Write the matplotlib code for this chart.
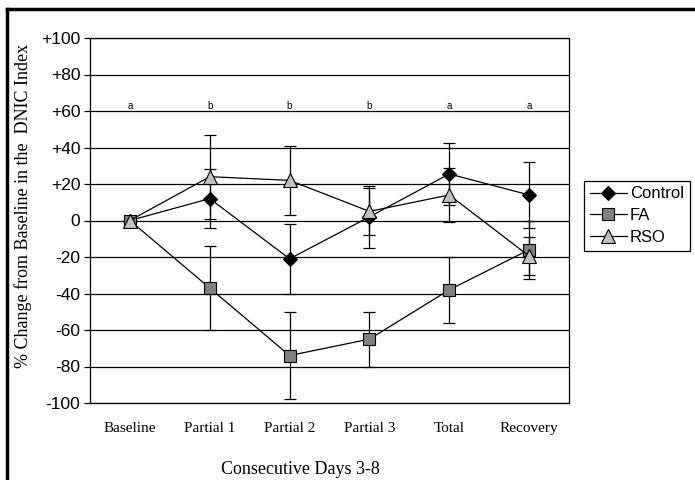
import matplotlib
matplotlib.use("Agg")
import matplotlib.pyplot as plt
from matplotlib.lines import Line2D

# -- Data ----------------------------------------------------------------------
categories = ["Baseline", "Partial 1", "Partial 2", "Partial 3", "Total", "Recovery"]
control     = [0, 12, -21, 2, 25.5, 14]
control_err = [0, 16, 19, 17, 17, 18]
fa          = [0, -37, -74, -65, -38, -16]
fa_err      = [0, 23, 24, 15, 18, 16]
rso         = [0, 24, 22, 5, 14, -19.5]
rso_err     = [0, 23, 19, 13, 15, 10.5]
sig_letters = ["a", "b", "b", "b", "a", "a"]
y_ticks     = [100, 80, 60, 40, 20, 0, -20, -40, -60, -80, -100]
y_labels    = ["+100", "+80", "+60", "+40", "+20", "0", "-20", "-40", "-60", "-80", "-100"]

SANS  = "Liberation Sans"
SERIF = "Liberation Serif"

fig = plt.figure(figsize=(6.95, 4.8), dpi=100)
ax = fig.add_axes([90 / 695, 1 - 403 / 480, 479 / 695, 365 / 480])

x = list(range(len(categories)))

# horizontal gridlines
for v in y_ticks:
    ax.axhline(v, color="black", lw=0.9, zorder=1)

series = [
    ("Control", control, control_err, "D", "black", 7.5),
    ("FA",      fa,      fa_err,      "s", "#808080", 8.5),
    ("RSO",     rso,     rso_err,     "^", "#c0c0c0", 9.5),
]
for name, vals, errs, mk, fc, ms in series:
    ax.errorbar(x, vals, yerr=errs, fmt="none", ecolor="black", elinewidth=0.9,
                capsize=4, capthick=0.9, zorder=2)
for name, vals, errs, mk, fc, ms in series:
    ax.plot(x, vals, color="black", lw=0.9, marker=mk, markersize=ms,
            markerfacecolor=fc, markeredgecolor="black", markeredgewidth=0.8,
            label=name, zorder=3)

for xi, letter in zip(x, sig_letters):
    ax.text(xi, 63, letter, ha="center", va="center", fontsize=7, family=SANS)

ax.set_xlim(-0.5, len(categories) - 0.5)
ax.set_ylim(-100, 100)
ax.set_yticks(y_ticks)
ax.set_yticklabels(y_labels, family=SANS, fontsize=12.5)
ax.set_xticks(x)
ax.set_xticklabels(categories, family=SERIF, fontsize=11)
ax.tick_params(axis="x", length=0, pad=14)
ax.tick_params(axis="y", length=4, width=0.9, direction="out", pad=3, color="black")
for sp in ax.spines.values():
    sp.set_linewidth(0.9)
    sp.set_color("black")

ax.set_ylabel("% Change from Baseline in the  DNIC Index", family=SERIF,
              fontsize=13)
ax.yaxis.set_label_coords(-0.121, 0.54)
fig.text(300 / 695, 1 - 470 / 480, "Consecutive Days 3-8", family=SERIF,
         fontsize=13, ha="center", va="center")

leg = fig.legend(loc="center left", bbox_to_anchor=(584 / 695, 1 - 215.5 / 480),
                 prop={"family": SANS, "size": 12}, fancybox=False,
                 edgecolor="black", framealpha=1, borderpad=0.35,
                 labelspacing=0.4, handlelength=2.2, handletextpad=0.2,
                 borderaxespad=0)
leg.get_frame().set_linewidth(0.9)

# outer frame (top and left edges visible)
fig.add_artist(Line2D([7 / 695, 693 / 695], [1 - 9 / 480, 1 - 9 / 480],
                      color="black", lw=2.5, transform=fig.transFigure))
fig.add_artist(Line2D([7 / 695, 7 / 695], [0, 1 - 9 / 480],
                      color="black", lw=2.5, transform=fig.transFigure))

fig.savefig("out.png", dpi=100)
